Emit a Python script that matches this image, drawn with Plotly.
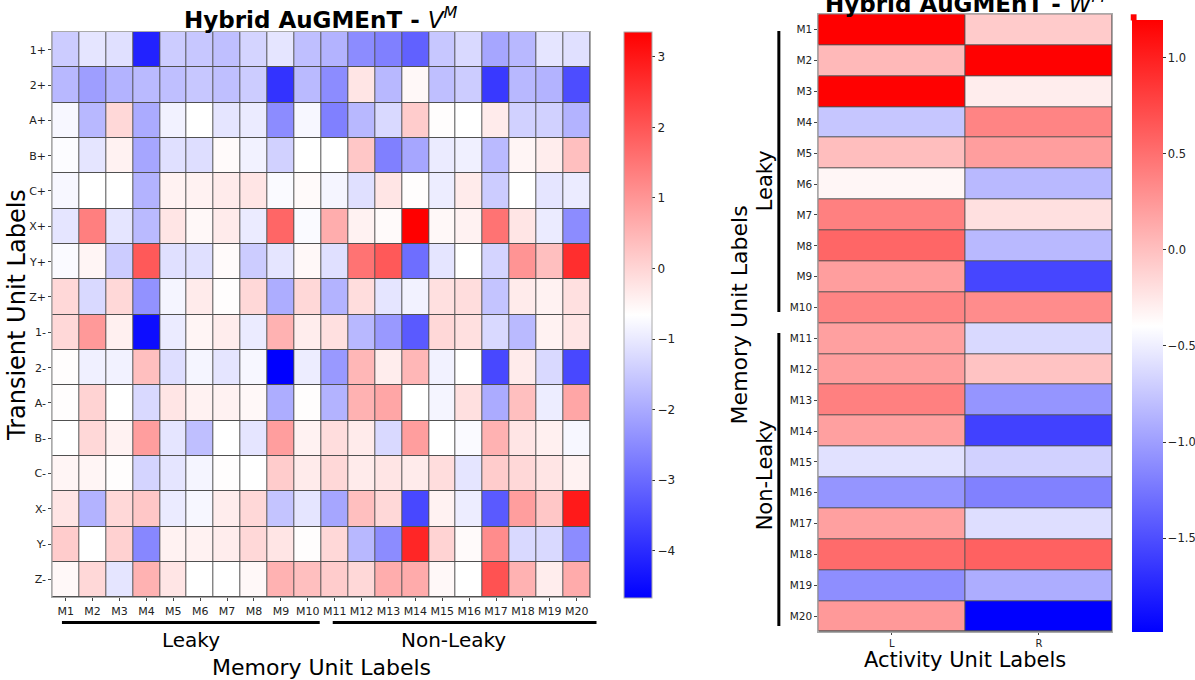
import plotly.graph_objects as go

W, H = 1195, 680

# ---------------- data ----------------
memory_units = [f"M{i}" for i in range(1, 21)]
transient_units = ["1+", "2+", "A+", "B+", "C+", "X+", "Y+", "Z+",
                   "1-", "2-", "A-", "B-", "C-", "X-", "Y-", "Z-"]
activity_units = ["L", "R"]

# V^M : rows = transient units, cols = memory units M1..M20
vm_1p = [-1.46, -1.06, -1.14, -4.14, -1.46, -1.54, -1.66, -1.34, -1.06, -1.66, -1.86, -2.46, -2.66, -3.14, -1.54, -1.26, -2.06, -1.78, -1.06, -1.14]
vm_2p = [-1.78, -2.18, -1.86, -1.74, -1.66, -1.54, -1.66, -1.46, -3.86, -1.74, -2.46, -0.25, -1.78, -0.54, -1.66, -1.46, -3.78, -1.78, -1.86, -3.46]
vm_Ap = [-0.78, -1.78, -0.05, -1.98, -0.86, -0.66, -1.06, -0.98, -2.46, -0.78, -2.66, -1.78, -1.26, 0.15, -0.62, -0.66, -0.34, -1.38, -1.38, -1.86]
vm_Bp = [-0.70, -1.06, -0.46, -2.06, -1.14, -1.18, -0.58, -0.86, -1.38, -0.66, -0.66, 0.23, -2.66, -2.06, -0.98, -0.90, -1.74, -0.50, -0.38, 0.35]
vm_Cp = [-0.78, -0.66, -0.66, -1.86, -0.46, -0.46, -0.34, -0.25, -0.74, -0.58, -0.82, -1.14, -0.25, -0.62, -0.94, -0.34, -1.46, -0.66, -1.06, -0.98]
vm_Xp = [-1.06, 1.35, -1.06, -1.74, -0.25, -0.54, -0.34, -0.98, 1.75, -0.74, 0.63, -0.46, -0.58, 3.355, -0.54, -0.46, 1.55, -0.25, -0.98, -2.46]
vm_Yp = [-0.74, -0.50, -1.46, 1.95, -1.14, -1.14, -0.58, -1.46, -1.06, -0.54, -1.14, 1.55, 1.95, -2.94, -1.06, -0.66, -1.34, 1.03, 0.35, 2.63]
vm_Zp = [-0.05, -1.26, -0.05, -2.38, -0.82, -0.34, -0.62, -0.05, -1.94, -0.05, -1.86, -0.13, -1.06, -0.86, -0.17, -0.13, -1.58, -0.34, -0.46, -0.17]
vm_1m = [-0.05, 0.95, -0.42, -4.47, -0.98, -0.50, -0.38, -0.98, 0.55, -0.38, -0.17, -1.78, -2.26, -3.26, -0.05, -0.17, -1.26, -1.74, -0.46, -0.25]
vm_2m = [-0.62, -0.90, -0.86, 0.35, -1.18, -0.82, -1.06, -0.78, -4.67, -0.94, -2.26, 0.47, -0.38, 0.47, -0.86, -0.66, -3.54, -0.34, -1.26, -3.54]
vm_Am = [-0.62, 0.03, -0.66, -1.26, -0.25, -0.46, -0.46, -0.54, -1.94, -0.62, -1.86, 0.55, 0.75, -0.66, -0.82, -0.17, -1.98, 0.35, -0.94, 0.75]
vm_Bm = [-0.66, -0.05, -0.46, 0.87, -1.06, -1.66, -0.66, -1.06, 0.87, -0.46, -0.13, -0.34, -1.26, 0.87, -0.66, -0.74, 0.55, -0.25, -0.42, -0.78]
vm_Cm = [-0.50, -0.50, -0.62, -1.34, -1.06, -0.82, -0.62, -0.66, 0.15, -0.34, -0.05, -0.34, -0.25, -0.34, -0.13, -1.06, 0.15, -0.05, -0.25, -0.46]
vm_Xm = [-0.25, -1.86, -0.05, 0.23, -0.98, -0.78, -0.38, -0.05, -1.58, -1.06, -2.06, 0.35, -0.05, -3.54, -0.46, -0.94, -3.26, 0.87, 0.23, 2.95]
vm_Ym = [0.15, -0.66, 0.07, -2.54, -0.46, -0.46, -0.38, -0.05, -0.25, -0.62, -0.05, -1.78, -2.46, 2.75, 0.03, -0.58, 1.15, -1.26, -1.26, -2.46]
vm_Zm = [-0.54, -0.05, -1.06, 0.55, -0.25, -0.66, -0.66, -0.54, 0.55, 0.35, 0.15, -0.05, 0.63, 0.67, -0.54, -0.66, 2.07, 0.55, -0.38, 0.67]

# W^M : rows = memory units, columns = L, R
wm_L = [1.197, 0.04, 1.19, -0.75, 0.01, -0.34, 0.40, 0.56, 0.21, 0.37,
        0.20, 0.21, 0.40, 0.20, -0.58, -1.06, 0.20, 0.53, -1.10, 0.24]
wm_R = [-0.07, 1.19, -0.28, 0.37, 0.21, -0.83, -0.20, -0.83, -1.55, 0.32,
        -0.63, -0.02, -1.06, -1.58, -0.68, -1.18, -0.60, 0.59, -0.91, -1.988]

vm_ticks = [-4, -3, -2, -1, 0, 1, 2, 3]
wm_ticks = [-1.5, -1.0, -0.5, 0.0, 0.5, 1.0]

# ---------------- helpers ----------------
def px(x):
    return x / W

def py(y):
    return 1 - y / H

vm_rows = [vm_1p, vm_2p, vm_Ap, vm_Bp, vm_Cp, vm_Xp, vm_Yp, vm_Zp,
           vm_1m, vm_2m, vm_Am, vm_Bm, vm_Cm, vm_Xm, vm_Ym, vm_Zm]
wm_rows = [[l, r] for l, r in zip(wm_L, wm_R)]

bwr = [[0.0, "rgb(0,0,255)"], [0.5, "rgb(255,255,255)"], [1.0, "rgb(255,0,0)"]]
FONT = "DejaVu Sans"

vm_min = min(min(r) for r in vm_rows)
vm_max = max(max(r) for r in vm_rows)
wm_min = min(wm_L + wm_R)
wm_max = max(wm_L + wm_R)

def fmt_minus(v, f):
    s = f.format(v)
    return s.replace("-", "\u2212")

fig = go.Figure()

fig.add_trace(go.Heatmap(
    z=vm_rows, x=memory_units, y=transient_units,
    colorscale=bwr, zmin=vm_min, zmax=vm_max,
    xgap=1, ygap=1, xaxis="x", yaxis="y",
    colorbar=dict(
        x=px(624.3), xanchor="left", xpad=0,
        y=py((32 + 597.7) / 2), yanchor="middle", ypad=0,
        len=(597.7 - 32) / H, lenmode="fraction",
        thickness=28, thicknessmode="pixels",
        outlinewidth=1, outlinecolor="#aaaaaa",
        tickvals=vm_ticks, ticktext=[fmt_minus(v, "{:d}") for v in vm_ticks],
        ticks="outside", ticklen=3, tickcolor="#333333",
        tickfont=dict(family=FONT, size=12, color="#222222"),
    ),
))

fig.add_trace(go.Heatmap(
    z=wm_rows, x=activity_units, y=memory_units,
    colorscale=bwr, zmin=wm_min, zmax=wm_max,
    xgap=1, ygap=1, xaxis="x2", yaxis="y2",
    colorbar=dict(
        x=px(1131.7), xanchor="left", xpad=0,
        y=py((20 + 631.7) / 2), yanchor="middle", ypad=0,
        len=(631.7 - 20) / H, lenmode="fraction",
        thickness=31, thicknessmode="pixels",
        outlinewidth=0,
        tickvals=wm_ticks, ticktext=[fmt_minus(v, "{:.1f}") for v in wm_ticks],
        ticks="outside", ticklen=3, tickcolor="#333333",
        tickfont=dict(family=FONT, size=11.5, color="#222222"),
    ),
))

axis_common = dict(showgrid=False, zeroline=False, showline=True, linecolor="#aaaaaa",
                   linewidth=1, mirror=True, ticks="outside",
                   tickcolor="#444444", tickwidth=1, fixedrange=True)

fig.update_layout(
    width=W, height=H, autosize=False,
    margin=dict(l=0, r=0, t=0, b=0, pad=0),
    paper_bgcolor="white", plot_bgcolor="#505050",
    font=dict(family=FONT, color="black"),
    xaxis=dict(domain=[px(52.3), px(590.7)], anchor="y", type="category", ticklen=3,
               tickfont=dict(family=FONT, size=11, color="#222222"), **axis_common),
    yaxis=dict(domain=[py(597.3), py(32)], anchor="x", type="category", autorange="reversed", ticklen=3,
               tickfont=dict(family=FONT, size=11, color="#222222"), **axis_common),
    xaxis2=dict(domain=[px(819), px(1113.3)], anchor="y2", type="category", ticklen=2,
                tickfont=dict(family=FONT, size=10, color="#222222"), **axis_common),
    yaxis2=dict(domain=[py(631.7), py(14.3)], anchor="x2", type="category", autorange="reversed", ticklen=3,
                tickfont=dict(family=FONT, size=10.5, color="#222222"), **axis_common),
)

# group bracket lines
line_style = dict(color="black", width=3)
shapes = [
    dict(type="line", xref="paper", yref="paper", x0=px(62), x1=px(320), y0=py(622.5), y1=py(622.5), line=line_style),
    dict(type="line", xref="paper", yref="paper", x0=px(333), x1=px(597), y0=py(622.5), y1=py(622.5), line=line_style),
    dict(type="line", xref="paper", yref="paper", x0=px(779.5), x1=px(779.5), y0=py(31), y1=py(312), line=line_style),
    dict(type="line", xref="paper", yref="paper", x0=px(779.5), x1=px(779.5), y0=py(333), y1=py(626), line=line_style),
    # small notch at top of the right colorbar
    dict(type="rect", xref="paper", yref="paper", x0=px(1131.7), x1=px(1137.5), y0=py(20.5), y1=py(14.3),
         fillcolor="rgb(255,0,0)", line=dict(width=0)),
]
fig.update_layout(shapes=shapes)

def ann(text, x, y, size, angle=0, **kw):
    fig.add_annotation(text=text, x=px(x), y=py(y), xref="paper", yref="paper",
                       showarrow=False, textangle=angle, xanchor="center", yanchor="middle",
                       font=dict(family=FONT, size=size, color="black"), **kw)

ann("<b>Hybrid AuGMEnT - </b><i>V</i><sup><i>M</i></sup>", 321, 18, 23)
ann("<b>Hybrid AuGMEnT - </b><i>W</i><sup><i>M</i></sup>", 966, 2, 23)
ann("Transient Unit Labels", 17, 315, 24, angle=-90)
ann("Memory Unit Labels", 321.5, 667, 22)
ann("Leaky", 191, 640, 20)
ann("Non-Leaky", 454, 640, 20)
ann("Memory Unit Labels", 740, 315, 22, angle=-90)
ann("Leaky", 766, 181, 21, angle=-90)
ann("Non-Leaky", 766, 475, 21, angle=-90)
ann("Activity Unit Labels", 966, 660, 21)

fig.write_html("out.html")
